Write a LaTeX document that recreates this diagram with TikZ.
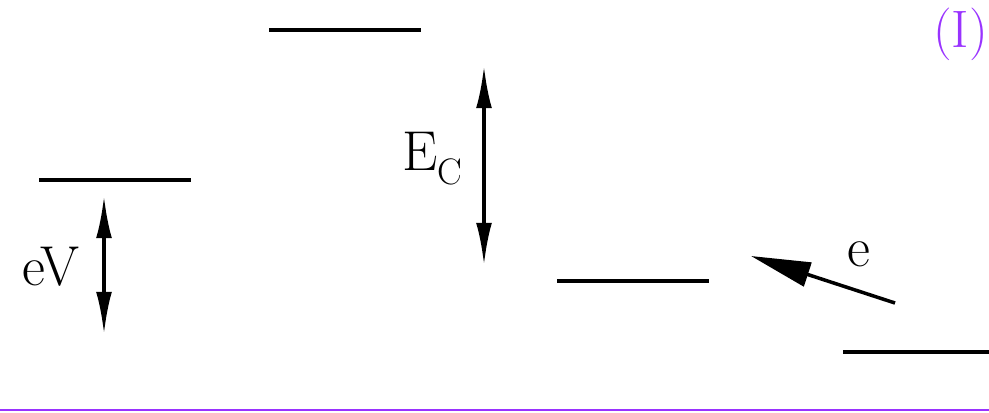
\documentclass[tikz,border=0pt]{standalone}
\usepackage{xcolor}
\definecolor{lvlviolet}{RGB}{153,51,255}
\usetikzlibrary{arrows.meta}

\begin{document}
\begin{tikzpicture}[
  x=0.02cm, y=-0.02cm,
  level/.style={line width=2.6pt, draw=black},
  gap/.style={{Latex[length=24pt,width=9pt]}-{Latex[length=24pt,width=9pt]},
    line width=2pt},
  elec/.style={-{Triangle[length=34pt,width=14pt]}, line width=2pt},
  lbl/.style={inner sep=0pt, font=\fontsize{32}{38}\selectfont}
]
\useasboundingbox (0,0) rectangle (989,412);

% energy levels
\coordinate (lvlA-l) at (39,180);  \coordinate (lvlA-r) at (191,180);
\coordinate (lvlB-l) at (269,30);  \coordinate (lvlB-r) at (421,30);
\coordinate (lvlC-l) at (557,281); \coordinate (lvlC-r) at (709,281);
\coordinate (lvlD-l) at (843,352); \coordinate (lvlD-r) at (989,352);
\draw[level] (lvlA-l) -- (lvlA-r);
\draw[level] (lvlB-l) -- (lvlB-r);
\draw[level] (lvlC-l) -- (lvlC-r);
\draw[level] (lvlD-l) -- (lvlD-r);

% gaps
\coordinate (ev-top) at (104,196);
\coordinate (ev-bot) at (104,334);
\coordinate (ec-top) at (484,66);
\coordinate (ec-bot) at (484,265);
\draw[gap] (ev-top) -- (ev-bot);
\draw[gap] (ec-top) -- (ec-bot);

\node[lbl, anchor=base east] (evlbl) at (80,285) {eV};
\node[lbl, anchor=base west] (eclbl) at (402,170)
  {E\raisebox{-8.5pt}{\fontsize{21}{24}\selectfont C}};

% incoming electron
\coordinate (el-tail) at (895,303);
\coordinate (el-tip) at (751,256);
\draw[elec] (el-tail) -- (el-tip);
\node[lbl, anchor=base west] (ellbl) at (847,266) {e};

\node[lbl, anchor=base east, text=lvlviolet, font=\fontsize{30}{34}\selectfont]
  (caselbl) at (988,48) {(I)};

\coordinate (base-l) at (0,410);
\coordinate (base-r) at (989,410);
\draw[lvlviolet, line width=1.1pt] (base-l) -- (base-r);
\end{tikzpicture}
\end{document}
